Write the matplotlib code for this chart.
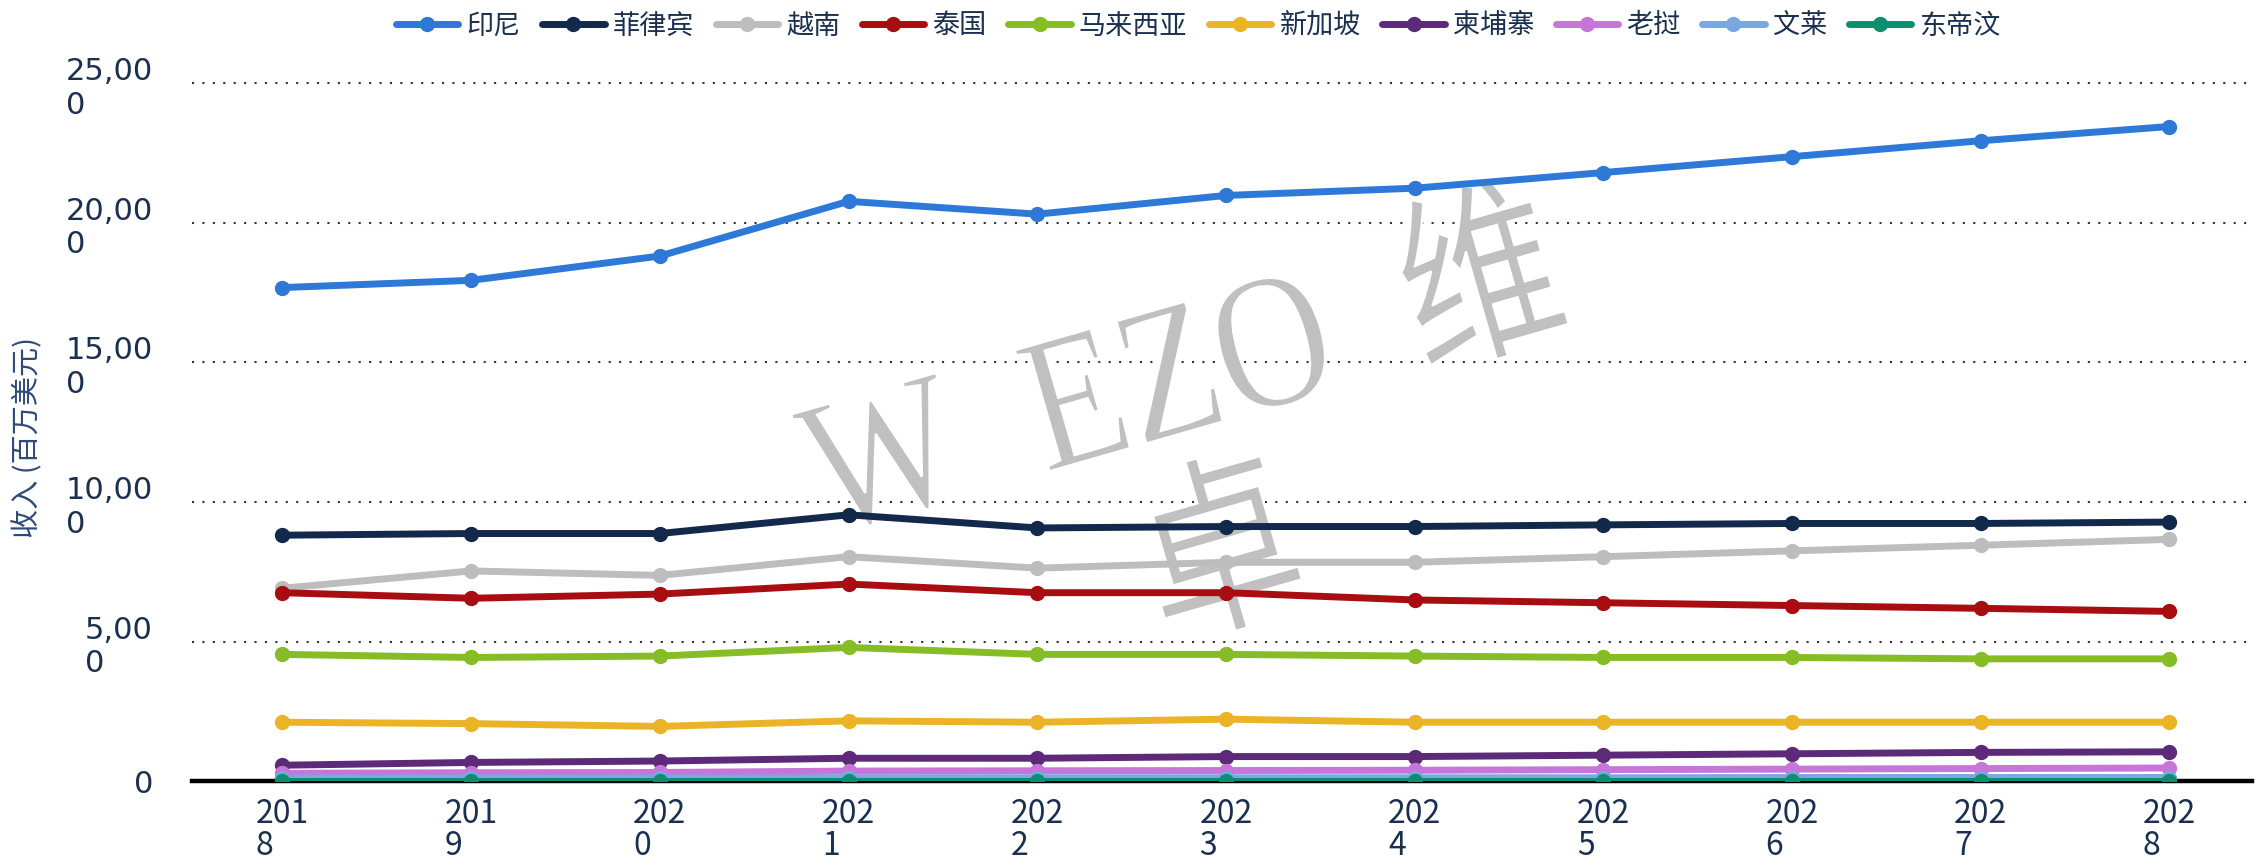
import matplotlib
matplotlib.use("Agg")
import matplotlib.pyplot as plt
from matplotlib.ticker import FixedLocator
from matplotlib.textpath import TextPath
from matplotlib.font_manager import FontProperties
from matplotlib.patches import PathPatch
from matplotlib.transforms import Affine2D, IdentityTransform

years = [2018, 2019, 2020, 2021, 2022, 2023, 2024, 2025, 2026, 2027, 2028]
year_labels = ["201\n8", "201\n9", "202\n0", "202\n1", "202\n2", "202\n3",
               "202\n4", "202\n5", "202\n6", "202\n7", "202\n8"]
countries = ["印尼", "菲律宾", "越南", "泰国", "马来西亚", "新加坡", "柬埔寨", "老挝", "文莱", "东帝汶"]

indonesia = [17680, 17940, 18810, 20770, 20310, 20980, 21240, 21800, 22370, 22940, 23450]
philippines = [8810, 8870, 8870, 9540, 9070, 9120, 9120, 9180, 9230, 9230, 9280]
vietnam = [6910, 7530, 7370, 8040, 7630, 7840, 7840, 8040, 8250, 8450, 8660]
thailand = [6750, 6550, 6700, 7060, 6750, 6750, 6490, 6390, 6290, 6190, 6080]
malaysia = [4540, 4430, 4480, 4790, 4540, 4540, 4480, 4430, 4430, 4380, 4380]
singapore = [2110, 2060, 1960, 2160, 2110, 2220, 2110, 2110, 2110, 2110, 2110]
cambodia = [570, 670, 720, 820, 820, 880, 880, 930, 980, 1030, 1050]
laos = [280, 300, 310, 360, 370, 380, 390, 410, 430, 450, 470]
brunei = [110, 110, 110, 120, 120, 120, 120, 120, 130, 130, 130]
timor = [20, 20, 20, 20, 20, 20, 20, 20, 20, 20, 20]

series = [indonesia, philippines, vietnam, thailand, malaysia, singapore, cambodia, laos, brunei, timor]
colors = ["#2e78d8", "#13294b", "#bdbdbd", "#a80d12", "#86bc25", "#ebb427",
          "#5c2a78", "#c676d8", "#7aa7e2", "#0b8f6f"]

y_ticks = [0, 5000, 10000, 15000, 20000, 25000]
y_tick_labels = ["0", "5,00\n0", "10,00\n0", "15,00\n0", "20,00\n0", "25,00\n0"]

navy = "#1b2f4f"
cjk = ["Noto Sans CJK SC", "DejaVu Sans"]

W, H = 2257, 866
fig = plt.figure(figsize=(W / 100, H / 100), dpi=100)
ax = fig.add_axes([0.085, 0.098, 0.913, 0.822])

for name, vals, c in zip(countries, series, colors):
    ax.plot(years, vals, color=c, lw=5, marker="o", ms=10, label=name,
            solid_capstyle="round", zorder=3)

ax.set_xlim(2017.52, 2028.44)
ax.set_ylim(0, 25500)
ax.yaxis.set_major_locator(FixedLocator(y_ticks))
ax.set_yticklabels(y_tick_labels, fontsize=22, color=navy, family="DejaVu Sans",
                   ha="right", ma="left")
ax.tick_params(axis="y", length=0, pad=28)
ax.set_xticks(years)
ax.set_xticklabels(year_labels, fontsize=23, color=navy, family=cjk, ma="left",
                   linespacing=1.0)
ax.tick_params(axis="x", length=0, pad=12)

ax.grid(axis="y", color="#333333", lw=1.5, linestyle=(0, (1, 4)), zorder=1.5)
ax.set_axisbelow(True)
for s in ["top", "right", "left"]:
    ax.spines[s].set_visible(False)
ax.spines["bottom"].set_color("black")
ax.spines["bottom"].set_linewidth(3.2)
ax.spines["bottom"].set_zorder(2)

fig.text(0.0126, 0.495, "收入 (百万美元)", rotation=90, ha="center", va="center",
         fontsize=21, color="#2e4a78", family=cjk)

# watermark (tall, thin serif-like text, rotated)
fp = FontProperties(family=["Liberation Serif", "Noto Sans CJK SC"])
wm_color = "#c0c0c0"
size = 160
rot = Affine2D().scale(1.0, 1.2).rotate_deg(16)
p1 = TextPath((0, 0), "W  EZO  维", size=size, prop=fp)
e1 = p1.get_extents()
cx1, cy1 = (e1.x0 + e1.x1) / 2, (e1.y0 + e1.y1) / 2
p2 = TextPath((0, 0), "卓", size=size, prop=fp)
e2 = p2.get_extents()
cx2 = (e2.x0 + e2.x1) / 2
anchor = (1177, H - 359)
for p, cx, dx, dy in [(p1, cx1, 0, 0), (p2, cx2, -12, -158)]:
    tr = Affine2D().translate(-cx + dx, -cy1 + dy) + rot + Affine2D().translate(*anchor)
    patch = PathPatch(tr.transform_path(p), facecolor=wm_color, edgecolor="white",
                      lw=1.6, transform=IdentityTransform(), zorder=1)
    ax.add_artist(patch)

leg = fig.legend(loc="center left", bbox_to_anchor=(396 / W, 0.97), ncol=10,
                 frameon=False, borderpad=0, borderaxespad=0,
                 prop={"family": cjk, "size": 19.5}, handlelength=2.3,
                 handletextpad=0.3, columnspacing=0.8)
for t in leg.get_texts():
    t.set_color(navy)

fig.savefig("out.png", dpi=100)
